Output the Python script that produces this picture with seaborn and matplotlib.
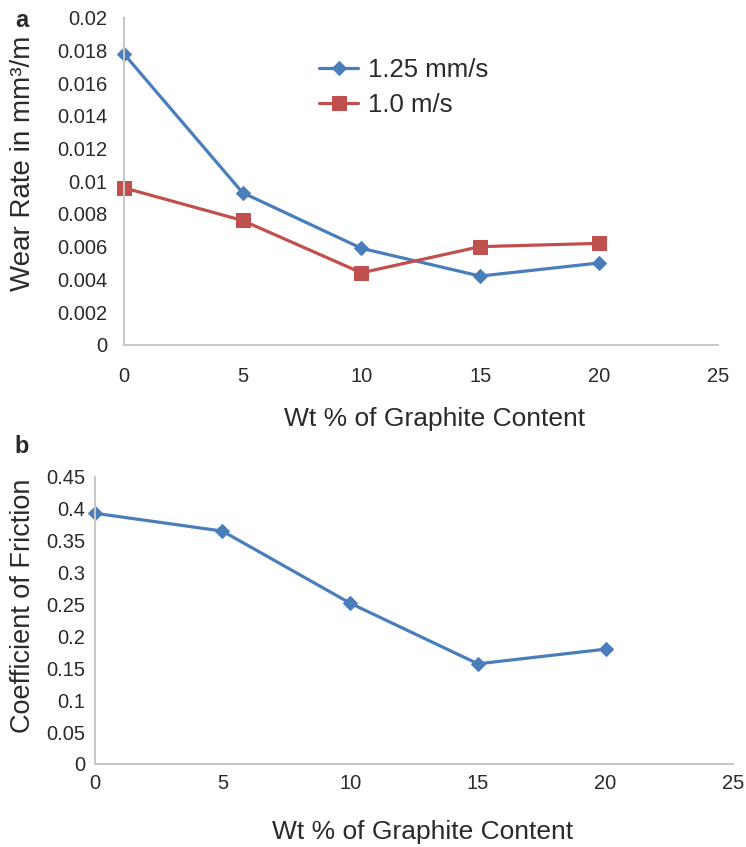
import matplotlib
matplotlib.use("Agg")
import matplotlib.pyplot as plt
import seaborn as sns
import pandas as pd

graphite = [0, 5, 10, 15, 20]
wear_125 = [0.0178, 0.0093, 0.0059, 0.0042, 0.0050]
wear_10 = [0.0096, 0.0076, 0.0044, 0.0060, 0.0062]
cof = [0.393, 0.365, 0.252, 0.157, 0.180]

series_names = ["1.25 mm/s", "1.0 m/s"]
wear_yticks = [0, 0.002, 0.004, 0.006, 0.008, 0.01, 0.012, 0.014, 0.016, 0.018, 0.02]
wear_ylabels = ["0", "0.002", "0.004", "0.006", "0.008", "0.01", "0.012", "0.014", "0.016", "0.018", "0.02"]
cof_yticks = [0, 0.05, 0.1, 0.15, 0.2, 0.25, 0.3, 0.35, 0.4, 0.45]
cof_ylabels = ["0", "0.05", "0.1", "0.15", "0.2", "0.25", "0.3", "0.35", "0.4", "0.45"]
xticks = [0, 5, 10, 15, 20, 25]

sns.set_style("white")
plt.rcParams['font.family'] = ['Liberation Sans', 'DejaVu Sans']

blue = "#4A7EBB"
red = "#C0504D"
gray_spine = "#C8C8C8"
txt = "#2a2a2a"

fig = plt.figure(figsize=(7.46, 8.47), dpi=100)
ax1 = fig.add_axes([0.166, 0.593, 0.796, 0.386])
ax2 = fig.add_axes([0.127, 0.098, 0.856, 0.339])

df_a = pd.DataFrame({
    "x": graphite * 2,
    "y": wear_125 + wear_10,
    "series": [series_names[0]] * 5 + [series_names[1]] * 5,
})

sns.lineplot(data=df_a[df_a.series == series_names[0]], x="x", y="y", ax=ax1,
             color=blue, marker="D", markersize=7, linewidth=2.3,
             markeredgecolor=blue, label=series_names[0], clip_on=False)
sns.lineplot(data=df_a[df_a.series == series_names[1]], x="x", y="y", ax=ax1,
             color=red, marker="s", markersize=9.5, linewidth=2.3,
             markeredgecolor=red, label=series_names[1], clip_on=False)

df_b = pd.DataFrame({"x": graphite, "y": cof})
sns.lineplot(data=df_b, x="x", y="y", ax=ax2, color=blue, marker="D",
             markersize=7, linewidth=2.3, markeredgecolor=blue, clip_on=False)

for ax, yt, yl in [(ax1, wear_yticks, wear_ylabels), (ax2, cof_yticks, cof_ylabels)]:
    ax.set_xlim(0, 25)
    ax.set_ylim(yt[0], yt[-1])
    ax.set_xticks(xticks)
    ax.set_xticklabels([str(v) for v in xticks])
    ax.set_yticks(yt)
    ax.set_yticklabels(yl)
    for s in ["top", "right"]:
        ax.spines[s].set_visible(False)
    for s in ["left", "bottom"]:
        ax.spines[s].set_color(gray_spine)
        ax.spines[s].set_linewidth(1.5)
    ax.tick_params(axis="both", length=0, labelsize=14.5, colors=txt)
    ax.margins(0)

ax1.tick_params(axis="x", pad=16)
ax1.tick_params(axis="y", pad=12)
ax2.tick_params(axis="x", pad=7)
ax2.tick_params(axis="y", pad=7)

ax1.set_xlabel("Wt % of Graphite Content", fontsize=19, color=txt)
ax1.set_ylabel("Wear Rate in mm³/m", fontsize=20, color=txt)
ax2.set_xlabel("Wt % of Graphite Content", fontsize=19, color=txt)
ax2.set_ylabel("Coefficient of Friction", fontsize=19.5, color=txt)

ax1.xaxis.set_label_coords(0.582, 0.520, transform=fig.transFigure)
ax1.yaxis.set_label_coords(0.048, 0.8076, transform=fig.transFigure)
ax2.xaxis.set_label_coords(0.566, 0.032, transform=fig.transFigure)
ax2.yaxis.set_label_coords(0.048, 0.2845, transform=fig.transFigure)

leg = ax1.legend(loc="upper left", bbox_to_anchor=(0.29, 0.949), frameon=False,
                 fontsize=18.5, handlelength=1.52, handletextpad=0.39, labelspacing=0.45)
for t in leg.get_texts():
    t.set_color(txt)

fig.text(0.02, 0.976, "a", fontsize=17, fontweight="bold", color=txt, va="center")
fig.text(0.02, 0.4734, "b", fontsize=17, fontweight="bold", color=txt, va="center")

fig.savefig("out.png", dpi=100)
